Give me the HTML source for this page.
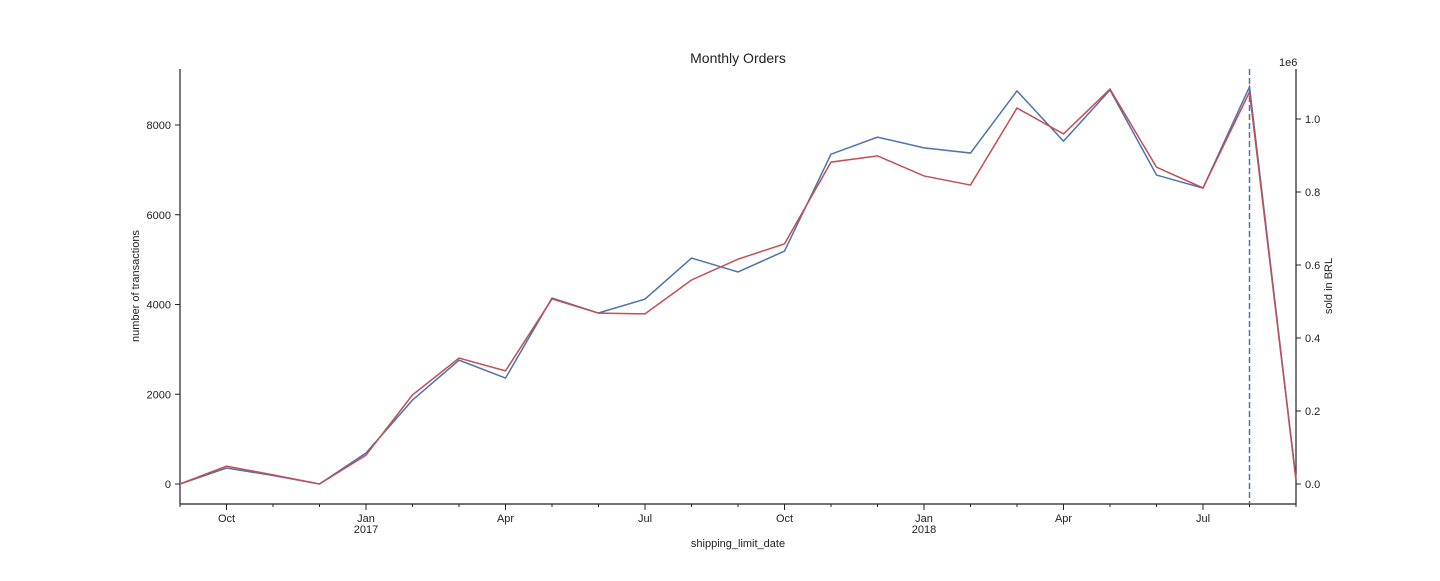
<!DOCTYPE html>
<html><head><meta charset="utf-8"><style>
body{margin:0;background:#fff;}
svg{font-family:"Liberation Sans","DejaVu Sans",sans-serif;}
</style></head><body>
<svg id="c" width="1440" height="576"></svg>
<script>
const months=["2016-09","2016-10","2016-11","2016-12","2017-01","2017-02","2017-03","2017-04","2017-05","2017-06","2017-07","2017-08","2017-09","2017-10","2017-11","2017-12","2018-01","2018-02","2018-03","2018-04","2018-05","2018-06","2018-07","2018-08","2018-09"];
const transactions=[0,357,190,0,690,1870,2760,2360,4145,3810,4120,5035,4725,5190,7350,7730,7490,7375,8760,7640,8780,6885,6595,8850,100];
const soldBRL=[0,0.049,0.025,0,0.079,0.244,0.345,0.310,0.507,0.468,0.466,0.559,0.616,0.658,0.882,0.899,0.844,0.819,1.030,0.959,1.082,0.868,0.811,1.074,0.011];
const leftTicks=[0,2000,4000,6000,8000];
const rightTicks=[0,0.2,0.4,0.6,0.8,1.0];
const xLabels=[[1,"Oct",""],[4,"Jan","2017"],[7,"Apr",""],[10,"Jul",""],[13,"Oct",""],[16,"Jan","2018"],[19,"Apr",""],[22,"Jul",""]];
const markerIndex=23;

const NS="http://www.w3.org/2000/svg";
const svg=document.getElementById('c');
const X0=180,X1=1296,YT=69,YB=504;
const x=i=>X0+i*(X1-X0)/(months.length-1);
const yL=v=>484-v*(359/8000);
const yR=v=>484-v*365;
function mk(t,a,p){const e=document.createElementNS(NS,t);for(const k in a)e.setAttribute(k,a[k]);(p||svg).appendChild(e);return e;}
function tx(s,a){const e=mk('text',a);e.textContent=s;return e;}

let t=tx("Monthly Orders",{x:738,y:63,'font-size':14,'text-anchor':'middle',fill:'#222'});


let s=mk('line',{x1:X0,y1:YT,x2:X0,y2:YB,stroke:'#222','stroke-width':1.2});

s=mk('line',{x1:X1,y1:YT,x2:X1,y2:YB,stroke:'#222','stroke-width':1.2});

s=mk('line',{x1:X0,y1:YB,x2:X1,y2:YB,stroke:'#222','stroke-width':1.2});


leftTicks.forEach(v=>{
  mk('line',{x1:X0-5,y1:yL(v),x2:X0,y2:yL(v),stroke:'#222'});
  const l=tx(String(v),{x:X0-9,y:yL(v)+4,'font-size':11,'text-anchor':'end',fill:'#222'});
  
});
rightTicks.forEach(v=>{
  mk('line',{x1:X1,y1:yR(v),x2:X1+5,y2:yR(v),stroke:'#222'});
  const l=tx(v.toFixed(1),{x:X1+9,y:yR(v)+4,'font-size':11,fill:'#222'});
  
});
tx("1e6",{x:1279,y:66,'font-size':11,fill:'#222'});
months.forEach((m,i)=>mk('line',{x1:x(i),y1:YB,x2:x(i),y2:YB+3,stroke:'#222'}));
xLabels.forEach(([i,a,b])=>{
  mk('line',{x1:x(i),y1:YB,x2:x(i),y2:YB+6,stroke:'#222'});
  const l=tx(a,{x:x(i),y:522,'font-size':11,'text-anchor':'middle',fill:'#222'});
  
  if(b)tx(b,{x:x(i),y:533,'font-size':11,'text-anchor':'middle',fill:'#222'});
});
t=tx("shipping_limit_date",{x:738,y:547,'font-size':11,'text-anchor':'middle',fill:'#222'});

t=tx("number of transactions",{x:139,y:286,'font-size':11,'text-anchor':'middle',fill:'#222',transform:'rotate(-90 139 286)'});

t=tx("sold in BRL",{x:1332,y:286,'font-size':11,'text-anchor':'middle',fill:'#222',transform:'rotate(-90 1332 286)'});


let p=mk('polyline',{points:transactions.map((v,i)=>x(i)+','+yL(v)).join(' '),fill:'none',stroke:'#4c72b0','stroke-width':1.5});

p=mk('polyline',{points:soldBRL.map((v,i)=>x(i)+','+yR(v)).join(' '),fill:'none',stroke:'#c44e52','stroke-width':1.5});

p=mk('line',{x1:x(markerIndex),y1:YT,x2:x(markerIndex),y2:YB,stroke:'#4c72b0','stroke-width':1.5,'stroke-dasharray':'6,3'});

</script>
</body></html>
